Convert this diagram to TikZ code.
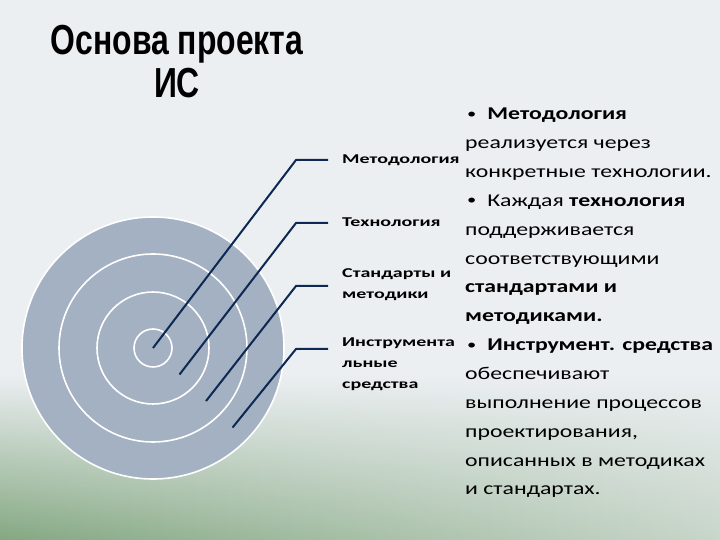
\documentclass[tikz,border=0pt]{standalone}
\usepackage{fontspec}
\setmainfont{Carlito}
\newfontfamily\bodyfont[FakeStretch=1.32]{Carlito}
\newfontfamily\lblfont[FakeStretch=1.48]{Carlito}
\newfontfamily\titlefont[FakeStretch=0.76]{Liberation Sans}
\usetikzlibrary{fadings}

\definecolor{bgcol}{RGB}{236,239,242}
\definecolor{greenL}{RGB}{132,168,130}
\definecolor{greenR}{RGB}{200,214,202}
\definecolor{disccol}{RGB}{163,177,194}
\definecolor{leadcol}{RGB}{13,40,82}

\newcommand{\blt}{\hspace{2pt}\raisebox{1.6pt}{\fontsize{14}{14}\selectfont•}\hspace{11pt}}

\begin{document}
\begin{tikzpicture}[x=1pt,y=1pt,
    ring/.style={draw=white, line width=1.6pt, fill=disccol},
    lead/.style={draw=leadcol, line width=2pt},
    lbl/.style={font=\lblfont\bfseries\fontsize{13.5}{21}\selectfont, anchor=west, inner sep=0, align=left},
    body/.style={font=\bodyfont\fontsize{18}{28.85}\selectfont, anchor=north west, inner sep=0, align=left},
    heading/.style={font=\titlefont\bfseries\fontsize{42}{43}\selectfont, anchor=north, inner sep=0, align=center}]

    % Background
    \fill[bgcol] (0,0) rectangle (720,540);
    \shade[left color=greenL, right color=greenR, path fading=north] (0,0) rectangle (720,165);
    \useasboundingbox (0,0) rectangle (720,540);

    % Title
    \node[heading] (title) at (177,515.5) {Основа проекта\\ИС};

    % Target rings
    \coordinate (c) at (153,192);
    \foreach \r in {131,94,56,19}
        \draw[ring] (c) circle (\r);

    % Points on the rings
    \coordinate (p1) at (c);
    \coordinate (p2) at ([shift={(-45:37.5)}]c);
    \coordinate (p3) at ([shift={(-45:75)}]c);
    \coordinate (p4) at ([shift={(-45:112.5)}]c);

    % Labels
    \node[lbl] (lmet) at (342,380) {Методология};
    \node[lbl] (ltech) at (342,318) {Технология};
    \node[lbl] (lstd) at (342,255.5) {Стандарты и\\методики};
    \node[lbl] (ltool) at (342,176) {Инструмента\\льные\\средства};

    % Bends and ends of the leaders
    \coordinate (b1) at (296,380);
    \coordinate (b2) at (296,317);
    \coordinate (b3) at (296,254);
    \coordinate (b4) at (296,191);
    \coordinate (e1) at (328,380);
    \coordinate (e2) at (328,317);
    \coordinate (e3) at (328,254);
    \coordinate (e4) at (328,191);

    % Leaders
    \draw[lead] (p1) -- (b1) -- (e1);
    \draw[lead] (p2) -- (b2) -- (e2);
    \draw[lead] (p3) -- (b3) -- (e3);
    \draw[lead] (p4) -- (b4) -- (e4);

    % Text on the right
    \node[body] (txt) at (465,432) {%
        \blt\textbf{Методология}\\
        реализуется через\\
        конкретные технологии.\\
        \blt Каждая \textbf{технология}\\
        поддерживается\\
        соответствующими\\
        \textbf{стандартами и}\\
        \textbf{методиками.}\\
        \blt\textbf{Инструмент. средства}\\
        обеспечивают\\
        выполнение процессов\\
        проектирования,\\
        описанных в методиках\\
        и стандартах.};
\end{tikzpicture}
\end{document}
